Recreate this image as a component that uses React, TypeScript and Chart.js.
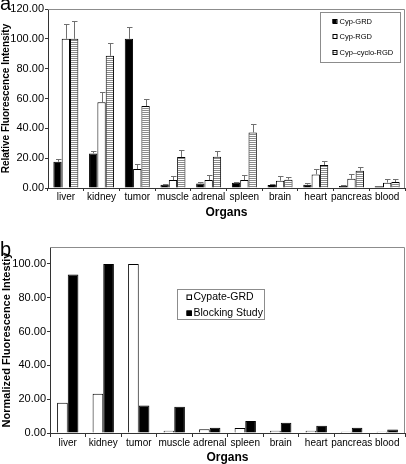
import React, { useEffect, useRef } from "react";
import { Chart, registerables } from "chart.js";

Chart.register(...registerables);

const FONT = "'Liberation Sans', Arial, Helvetica, sans-serif";

// ----- Data -----
const organs = ["liver", "kidney", "tumor", "muscle", "adrenal", "spleen", "brain", "heart", "pancreas", "blood"];

// Panel a
const cypGRD = [17.6, 23.2, 100, 2.2, 3.1, 3.6, 2.0, 2.2, 1.3, 1.1];
const cypGRDErr = [1.6, 1.3, 8.2, 0.7, 0.7, 0.5, 0.5, 0.9, 0.4, 0.3];
const cypRGD = [100, 57.5, 12.7, 5.3, 5.3, 5.3, 4.9, 9.1, 6.2, 3.6];
const cypRGDErr = [10.2, 6.9, 3.3, 2.7, 3.6, 3.6, 2.9, 3.6, 3.4, 2.6];
const cypCyclo = [100, 88.6, 55, 20.7, 21, 37.2, 5.6, 15.4, 11.6, 4.0];
const cypCycloErr = [12, 8.9, 4.7, 4.7, 4.0, 5.6, 1.7, 2.6, 2.7, 2.0];

// Panel b
const cypateGRD = [17.9, 23.2, 100, 1.4, 2.2, 2.9, 1.4, 1.4, 0.8, 0.8];
const blocking = [93.7, 100, 16.3, 15.5, 3.1, 7.1, 6.1, 4.3, 3.1, 2.0];

const labelsA = ["Cyp-GRD", "Cyp-RGD", "Cyp\u2013cyclo-RGD"];
const labelsB = ["Cypate-GRD", "Blocking Study"];
const titleA = "Relative Fluorescence Intensity";
const titleB = "Normalized Fluorescence Intestiy";
const xTitle = "Organs";

function makeStripe(ctx: CanvasRenderingContext2D) {
  const pc = document.createElement("canvas");
  pc.width = 2;
  pc.height = 2;
  const p = pc.getContext("2d")!;
  p.fillStyle = "#ffffff";
  p.fillRect(0, 0, 2, 2);
  p.fillStyle = "#8a8a8a";
  p.fillRect(0, 0, 2, 1);
  return ctx.createPattern(pc, "repeat")!;
}

const errorBars = {
  id: "errorBars",
  afterDatasetsDraw(chart: any) {
    const ctx = chart.ctx;
    const ys = chart.scales.y;
    chart.data.datasets.forEach((ds: any, i: number) => {
      if (!ds.errors) return;
      const meta = chart.getDatasetMeta(i);
      meta.data.forEach((bar: any, j: number) => {
        const top = Math.round(ys.getPixelForValue(ds.data[j] + ds.errors[j])) + 0.5;
        const x = Math.round(bar.x) + 0.5;
        ctx.save();
        ctx.strokeStyle = "#707070";
        ctx.lineWidth = 1;
        ctx.beginPath();
        ctx.moveTo(x, bar.y);
        ctx.lineTo(x, top);
        ctx.moveTo(x - 2.5, top);
        ctx.lineTo(x + 3, top);
        ctx.stroke();
        ctx.restore();
      });
    });
  },
};

function boxPlugin(panel: string, panelY: number) {
  return {
    id: "box" + panel,
    afterDraw(chart: any) {
      const { ctx, chartArea } = chart;
      ctx.save();
      ctx.strokeStyle = "#8c8c8c";
      ctx.lineWidth = 1;
      ctx.beginPath();
      ctx.moveTo(chartArea.left, chartArea.top + 0.5);
      ctx.lineTo(chartArea.right - 0.5, chartArea.top + 0.5);
      ctx.lineTo(chartArea.right - 0.5, chartArea.bottom);
      ctx.stroke();
      ctx.fillStyle = "#000";
      ctx.font = `20px ${FONT}`;
      ctx.textBaseline = "alphabetic";
      ctx.textAlign = "left";
      ctx.fillText(panel, 0, panelY);
      ctx.restore();
    },
  };
}

function legendA(stripe: CanvasPattern) {
  return {
    id: "legendA",
    afterDraw(chart: any) {
      const { ctx, chartArea } = chart;
      const bx = chartArea.right - 84.5;
      const by = chartArea.top + 3.5;
      ctx.save();
      ctx.strokeStyle = "#8c8c8c";
      ctx.lineWidth = 1;
      ctx.fillStyle = "#fff";
      ctx.fillRect(bx, by, 80, 50);
      ctx.strokeRect(bx, by, 80, 50);
      ctx.font = `7.5px ${FONT}`;
      ctx.textBaseline = "middle";
      ctx.textAlign = "left";
      chart.data.datasets.forEach((ds: any, i: number) => {
        const cy = Math.round(by + 8 + i * 15.5);
        const mx = bx + 12;
        ctx.fillStyle = i === 0 ? "#000" : i === 1 ? "#fff" : stripe;
        ctx.fillRect(mx, cy - 2, 4, 4);
        ctx.strokeStyle = "#000";
        ctx.strokeRect(mx + 0.5, cy - 1.5, 4, 4);
        ctx.fillStyle = "#000";
        ctx.fillText(ds.label, mx + 7, cy + 0.5);
      });
      ctx.restore();
    },
  };
}

const legendB = {
  id: "legendB",
  afterDraw(chart: any) {
    const { ctx, chartArea } = chart;
    const bx = chartArea.left + 127.5;
    const by = chartArea.top + 42.5;
    ctx.save();
    ctx.strokeStyle = "#8c8c8c";
    ctx.lineWidth = 1;
    ctx.fillStyle = "#fff";
    ctx.fillRect(bx, by, 87, 30);
    ctx.strokeRect(bx, by, 87, 30);
    ctx.font = `10.5px ${FONT}`;
    ctx.textBaseline = "middle";
    ctx.textAlign = "left";
    chart.data.datasets.forEach((ds: any, i: number) => {
      const cy = Math.round(by + 7 + i * 16.5);
      const mx = bx + 9;
      ctx.fillStyle = i === 0 ? "#fff" : "#000";
      ctx.fillRect(mx, cy - 2.5, 5, 5);
      ctx.strokeStyle = "#000";
      ctx.strokeRect(mx + 0.5, cy - 2, 4.5, 4.5);
      ctx.fillStyle = "#000";
      ctx.fillText(ds.label, mx + 7, cy + 0.5);
    });
    ctx.restore();
  },
};

function scalesFor(max: number, yTitle: string, yTitleSize: number, yWidth: number, xHeight: number, xTickLen: number, xTitlePad: number, tickSize: number) {
  return {
    x: {
      afterFit: (s: any) => {
        s.height = xHeight;
      },
      grid: { offset: true, drawOnChartArea: false, drawTicks: true, tickLength: xTickLen, color: "#333" },
      border: { color: "#333", width: 1 },
      ticks: { color: "#000", font: { size: 10, family: FONT }, maxRotation: 0, minRotation: 0, autoSkip: false, padding: 0 },
      title: {
        display: true,
        text: xTitle,
        color: "#000",
        font: { size: 12, weight: "bold", family: FONT, lineHeight: 1 },
        padding: { top: 0, bottom: xTitlePad },
      },
    },
    y: {
      min: 0,
      max,
      afterFit: (s: any) => {
        s.width = yWidth;
      },
      grid: { drawOnChartArea: false, drawTicks: true, tickLength: 3, color: "#333" },
      border: { color: "#333", width: 1 },
      ticks: {
        stepSize: 20,
        includeBounds: false,
        color: "#000",
        padding: 1,
        font: { size: tickSize, family: FONT },
        callback: (v: any) => Number(v).toFixed(2),
      },
      title: {
        display: true,
        text: yTitle,
        color: "#000",
        font: { size: yTitleSize, weight: "bold", family: FONT, lineHeight: 1 },
        padding: { top: 1, bottom: 0 },
      },
    },
  };
}

export default function App() {
  const refA = useRef<HTMLCanvasElement>(null);
  const refB = useRef<HTMLCanvasElement>(null);

  useEffect(() => {
    Chart.defaults.font.family = FONT;
    const ctxA = refA.current!.getContext("2d")!;
    const stripe = makeStripe(ctxA);

    const chartA = new Chart(ctxA, {
      type: "bar",
      data: {
        labels: organs,
        datasets: [
          { label: labelsA[0], data: cypGRD, errors: cypGRDErr, backgroundColor: "#000", borderColor: "#000", borderWidth: 1 } as any,
          { label: labelsA[1], data: cypRGD, errors: cypRGDErr, backgroundColor: "#fff", borderColor: "#000", borderWidth: 1 } as any,
          { label: labelsA[2], data: cypCyclo, errors: cypCycloErr, backgroundColor: stripe, borderColor: "#000", borderWidth: 1 } as any,
        ],
      },
      options: {
        responsive: false,
        animation: false,
        layout: { padding: { top: 9, right: 1, left: 0, bottom: 0 } },
        datasets: { bar: { categoryPercentage: 0.7, barPercentage: 1 } },
        plugins: { legend: { display: false }, tooltip: { enabled: false } },
        scales: scalesFor(120, titleA, 10, 48, 36, 3, 5, 11) as any,
      },
      plugins: [errorBars, boxPlugin("a", 10), legendA(stripe)],
    });

    const chartB = new Chart(refB.current!, {
      type: "bar",
      data: {
        labels: organs,
        datasets: [
          { label: labelsB[0], data: cypateGRD, backgroundColor: "#fff", borderColor: "#000", borderWidth: 1 },
          { label: labelsB[1], data: blocking, backgroundColor: "#000", borderColor: "#000", borderWidth: 1 },
        ],
      },
      options: {
        responsive: false,
        animation: false,
        layout: { padding: { top: 23, right: 1, left: 0, bottom: 0 } },
        datasets: { bar: { categoryPercentage: 0.6, barPercentage: 1 } },
        plugins: { legend: { display: false }, tooltip: { enabled: false } },
        scales: scalesFor(110, titleB, 11, 50, 31, 4, 0, 11) as any,
      },
      plugins: [boxPlugin("b", 32), legendB],
    });

    return () => {
      chartA.destroy();
      chartB.destroy();
    };
  }, []);

  return (
    <div style={{ position: "absolute", left: 0, top: 0, width: 406, height: 464, background: "#fff" }}>
      <canvas ref={refA} width={406} height={224} style={{ position: "absolute", left: 0, top: 0, display: "block" }} />
      <canvas ref={refB} width={406} height={240} style={{ position: "absolute", left: 0, top: 224, display: "block" }} />
    </div>
  );
}
